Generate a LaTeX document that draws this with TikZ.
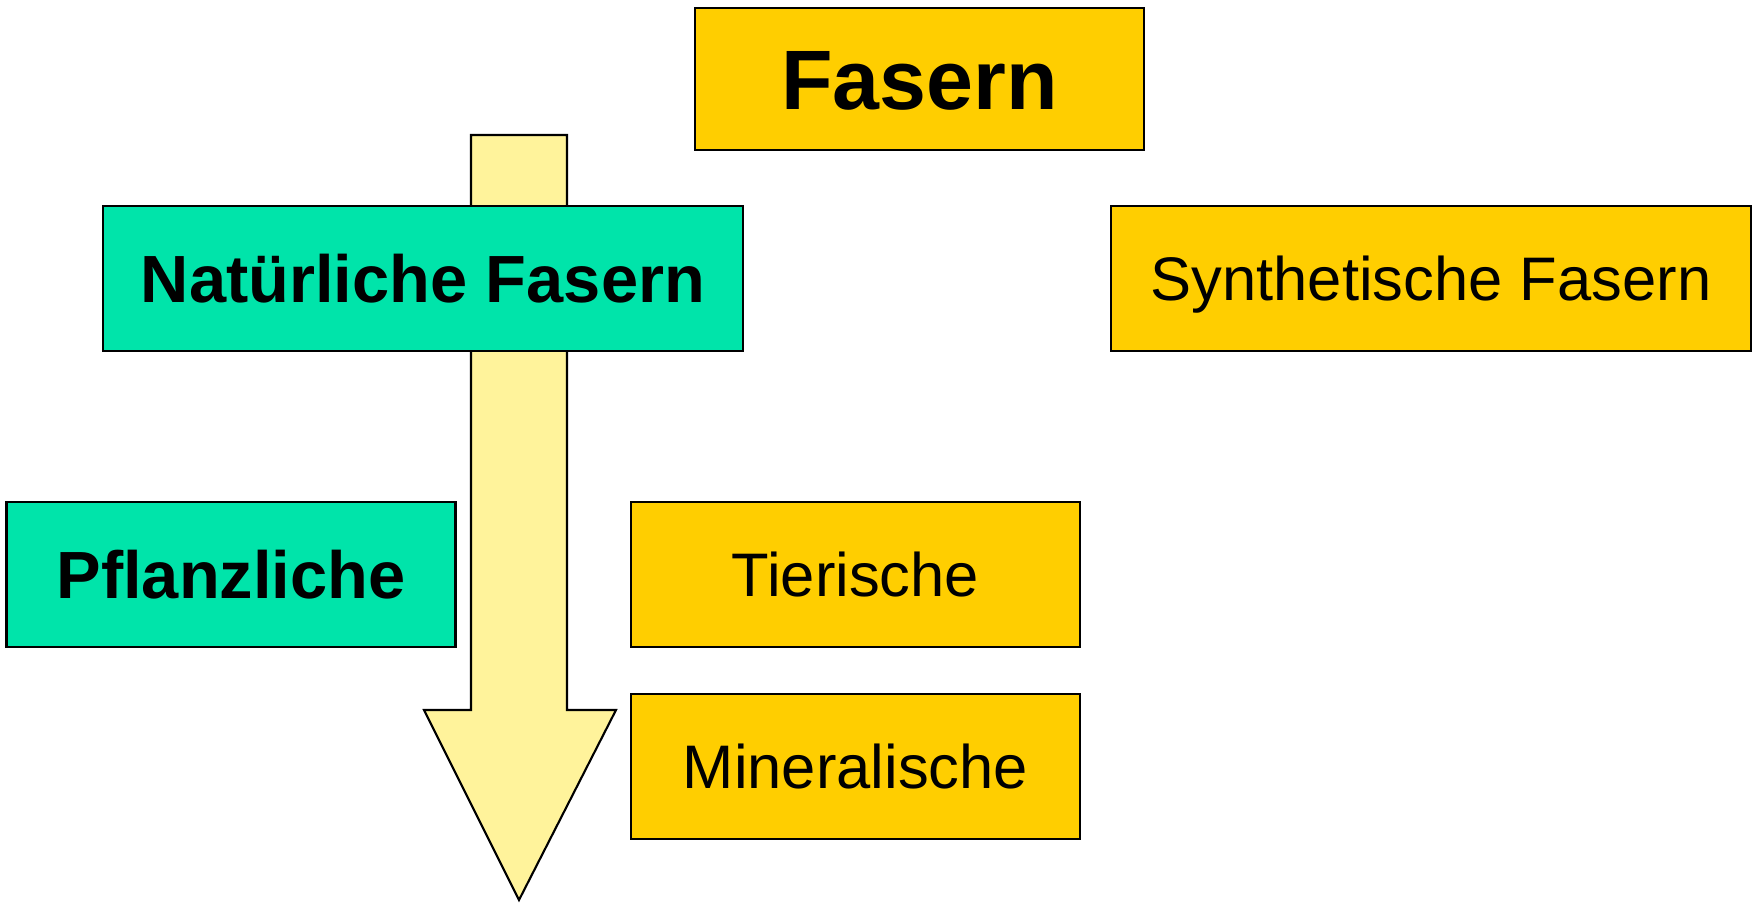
\documentclass[tikz,border=0pt]{standalone}
\usepackage{fontspec}
\setmainfont{Liberation Sans}
\usepackage{tikz}
\usepackage{xcolor}
\usetikzlibrary{positioning}
\definecolor{boxgold}{RGB}{255,206,0}
\definecolor{boxgreen}{RGB}{0,228,170}
\definecolor{arrowyellow}{RGB}{255,243,155}
\tikzset{%
	box/.style      = {draw, rectangle, line width=0.6pt, inner sep=0pt, minimum width=4.49cm, minimum height=1.45cm, text depth=0pt},
	goldbox/.style  = {box, fill=boxgold, text height=12.5pt, font=\fontsize{17.5}{21}\selectfont}, % yellow box
	greenbox/.style = {box, fill=boxgreen, text height=13.6pt, font=\fontsize{19}{23}\selectfont\bfseries}, % green box
	headbox/.style  = {box, fill=boxgold, minimum height=1.42cm, text height=17.2pt, font=\fontsize{24}{29}\selectfont\bfseries}, % title
	wide/.style     = {minimum width=6.40cm},
	bigarrow/.style = {draw, fill=arrowyellow, line width=0.6pt},
}
\begin{document}
\begin{tikzpicture}[node distance=2.0cm]
	\path[fill=white] (0,0) rectangle (17.58,9.03);
	% block arrow first, the boxes lie on top of it
	\draw[bigarrow] (4.71,7.68) -- (5.67,7.68) -- (5.67,1.93) -- (6.16,1.93)
		-- (5.19,0.03) -- (4.24,1.93) -- (4.71,1.93) -- cycle;
	
	\node [headbox] (fasern) at (9.195,8.24) {Fasern};
	\node [greenbox,wide] (natur) at (4.23,6.245) {Natürliche Fasern};
	\node [goldbox,wide] (synth) [right of=natur,node distance=10.08cm] {Synthetische Fasern};
	\node [greenbox] (pflanz) at (2.31,3.285) {Pflanzliche};
	\node [goldbox] (tier) [right of=pflanz,node distance=6.245cm] {Tierische};
	\node [goldbox] (miner) [below of=tier,node distance=1.92cm] {Mineralische};
\end{tikzpicture}
\end{document}
